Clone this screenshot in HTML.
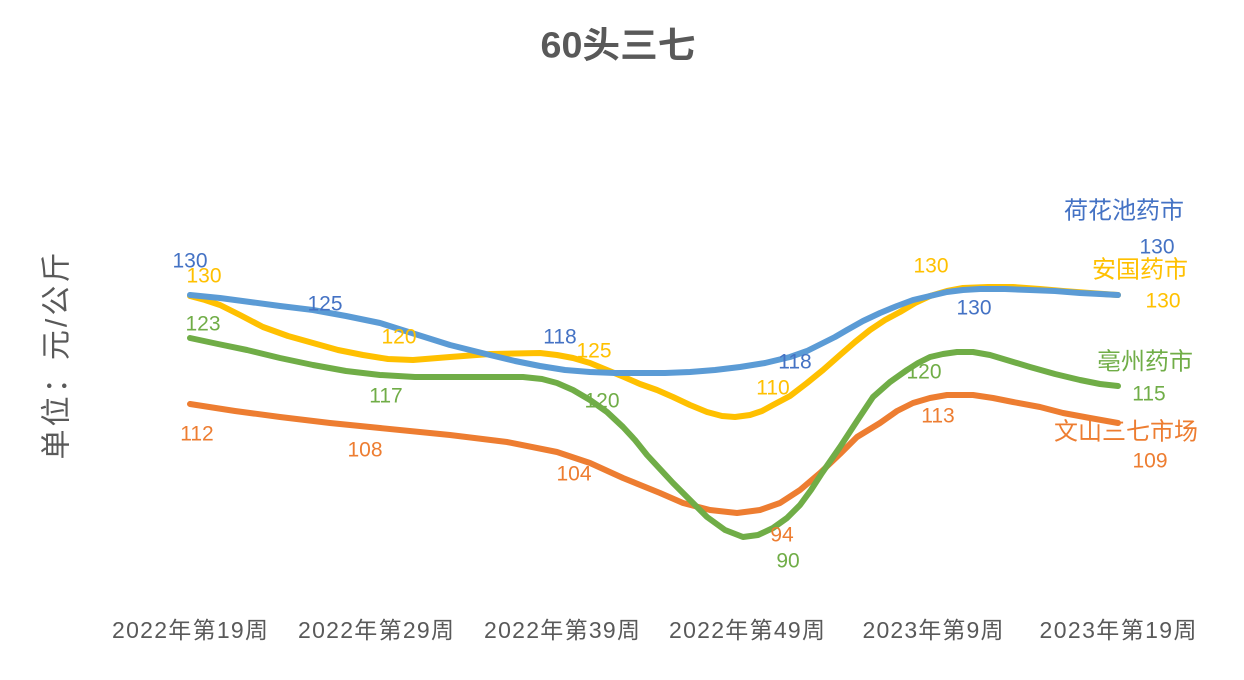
<!DOCTYPE html>
<html>
<head>
<meta charset="utf-8">
<style>
  html, body { margin: 0; padding: 0; background: #ffffff; }
  svg { display: block; }
  text { font-family: "Liberation Sans", "Noto Sans CJK SC", sans-serif; }
</style>
</head>
<body>
<svg width="1244" height="680" viewBox="0 0 1244 680" xmlns="http://www.w3.org/2000/svg">
  <rect x="0" y="0" width="1244" height="680" fill="#ffffff"/>

  <!-- Title -->
  <text x="618" y="45" text-anchor="middle" dominant-baseline="central" font-size="36" font-weight="bold" fill="#595959" textLength="155" lengthAdjust="spacingAndGlyphs">60头三七</text>

  <!-- Y axis title -->
  <text transform="translate(57,356) rotate(-90)" x="0" y="0" text-anchor="middle" dominant-baseline="central" font-size="30" fill="#595959" textLength="207" lengthAdjust="spacing">单位：元/公斤</text>

  <!-- X axis labels -->
  <g font-size="23" fill="#595959" text-anchor="middle">
    <text x="190" y="638" textLength="156" lengthAdjust="spacing">2022年第19周</text>
    <text x="376" y="638" textLength="156" lengthAdjust="spacing">2022年第29周</text>
    <text x="562" y="638" textLength="156" lengthAdjust="spacing">2022年第39周</text>
    <text x="747" y="638" textLength="156" lengthAdjust="spacing">2022年第49周</text>
    <text x="933" y="638" textLength="141" lengthAdjust="spacing">2023年第9周</text>
    <text x="1118" y="638" textLength="157" lengthAdjust="spacing">2023年第19周</text>
  </g>

  <!-- Series lines -->
  <g fill="none" stroke-width="6" stroke-linecap="round" stroke-linejoin="round">
    <!-- 文山三七市场 (orange) -->
    <polyline stroke="#ED7D31" points="190,404 235,411 280,417 330,423 380,428 450,435 507,442 557,452 590,463 623,478 660,493 683,503 710,510 737,513 760,510 780,503 800,490 820,473 840,454 857,437 880,423 897,411 913,403 930,398 947,395 973,395 993,398 1013,402 1040,407 1063,413 1090,418 1118,423"/>
    <!-- 安国药市 (yellow) -->
    <polyline stroke="#FFC000" points="190,296 205,300 220,305 240,315 263,327 288,336 313,343 338,350 363,355 388,359 413,360 450,357 490,354 540,353 557,355 573,358 590,363 607,370 624,377 640,384 657,390 673,397 690,405 707,412 722,416 735,417 750,415 762,411 773,405 790,396 807,383 823,370 840,355 855,342 870,330 885,320 900,312 915,303 930,296 947,291 963,288 988,287 1013,287 1040,289 1063,291 1090,293 1118,295"/>
    <!-- 亳州药市 (green) -->
    <polyline stroke="#70AD47" points="190,338 218,344 247,350 280,358 313,365 346,371 380,375 415,377 450,377 490,377 523,377 542,379 557,383 573,390 590,400 607,412 623,427 635,440 647,455 660,469 673,483 690,500 707,517 725,530 743,537 758,535 773,528 787,518 800,505 811,490 822,473 831,460 840,447 857,421 873,397 890,382 907,370 918,363 930,357 943,354 957,352 973,352 990,355 1010,361 1030,367 1055,374 1080,380 1100,384 1118,386"/>
    <!-- 荷花池药市 (blue) -->
    <polyline stroke="#5B9BD5" points="190,295 220,298 250,302 280,306 313,310 346,316 380,323 415,334 450,345 490,355 515,361 540,366 565,370 590,372 615,373 640,373 665,373 690,372 715,370 740,367 765,363 790,357 807,351 823,343 835,337 847,330 863,321 880,313 897,306 913,300 930,296 947,292 963,290 980,289 1005,289 1030,290 1055,291 1080,293 1100,294 1118,295"/>
  </g>

  <!-- Data labels: blue -->
  <g font-size="21" fill="#4472C4" text-anchor="middle" dominant-baseline="central">
    <text x="190" y="261">130</text>
    <text x="325" y="304">125</text>
    <text x="560" y="337">118</text>
    <text x="795" y="362">118</text>
    <text x="974" y="308">130</text>
    <text x="1157" y="247">130</text>
  </g>
  <!-- yellow -->
  <g font-size="21" fill="#FFC000" text-anchor="middle" dominant-baseline="central">
    <text x="204" y="276">130</text>
    <text x="399" y="337">120</text>
    <text x="594" y="351">125</text>
    <text x="773" y="388">110</text>
    <text x="931" y="266">130</text>
    <text x="1163" y="301">130</text>
  </g>
  <!-- green -->
  <g font-size="21" fill="#70AD47" text-anchor="middle" dominant-baseline="central">
    <text x="203" y="324">123</text>
    <text x="386" y="396">117</text>
    <text x="602" y="401">120</text>
    <text x="788" y="561">90</text>
    <text x="924" y="372">120</text>
    <text x="1149" y="394">115</text>
  </g>
  <!-- orange -->
  <g font-size="21" fill="#ED7D31" text-anchor="middle" dominant-baseline="central">
    <text x="197" y="434">112</text>
    <text x="365" y="450">108</text>
    <text x="574" y="474">104</text>
    <text x="782" y="535">94</text>
    <text x="938" y="416">113</text>
    <text x="1150" y="461">109</text>
  </g>

  <!-- Series name labels -->
  <g font-size="24" text-anchor="middle" dominant-baseline="central">
    <text x="1124" y="211" fill="#4472C4">荷花池药市</text>
    <text x="1140" y="270" fill="#FFC000">安国药市</text>
    <text x="1145" y="362" fill="#70AD47">亳州药市</text>
    <text x="1126" y="432" fill="#ED7D31">文山三七市场</text>
  </g>
</svg>
</body>
</html>
